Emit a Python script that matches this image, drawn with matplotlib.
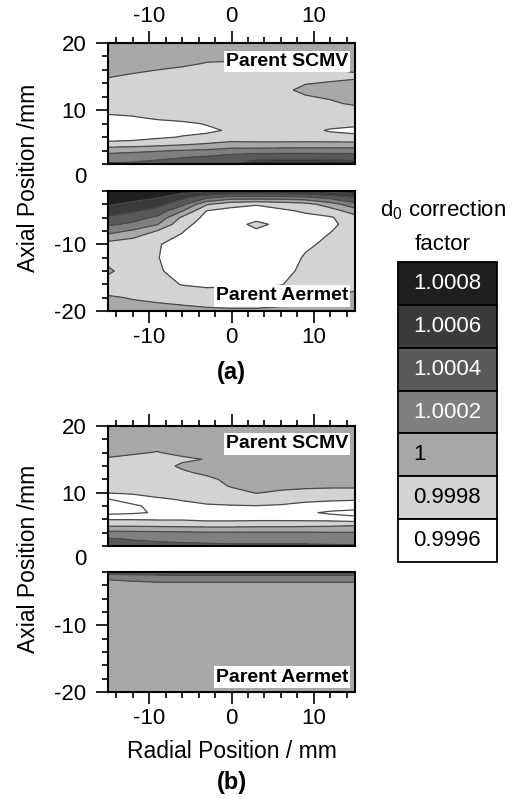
import matplotlib
matplotlib.use("Agg")
import matplotlib.pyplot as plt
import matplotlib.transforms as mtransforms
from matplotlib.patches import Rectangle
from matplotlib.ticker import MultipleLocator
import numpy as np

plt.rcParams["font.family"] = ["Liberation Sans", "DejaVu Sans"]
plt.rcParams["mathtext.default"] = "regular"
plt.rcParams["axes.unicode_minus"] = False

# measurement grid (mm)
radial = [-15, -12, -9, -6, -3, 0, 3, 6, 9, 12, 15]
axial_scmv_a = [2, 3, 4, 5, 6, 7, 8, 9, 10, 11, 13, 15, 17, 20]
axial_aermet_a = [-20, -18, -16, -14, -12, -10, -8, -7, -6, -5, -4, -3, -2]
axial_scmv_b = [2, 3, 4, 5, 6, 7, 8, 9, 10, 11, 12, 13, 14, 15, 16, 18, 20]
axial_aermet_b = [-20, -12, -6, -4, -3, -2]

# (d0 correction factor - 1) x 1e4, one list per radial position (bottom -> top)
scmv_a = [
    [3.2, 1.8, 0.4, -2.4, -4.0, -4.2, -4.0, -3.3, -2.5, -2.0, -2.0, -0.9, 0.0, 0.0],
    [3.4, 2.0, 0.6, -2.2, -3.8, -4.0, -3.8, -3.1, -2.3, -2.0, -2.0, -1.3, 0.0, 0.0],
    [3.7, 2.5, 0.8, -1.8, -3.3, -3.8, -3.6, -2.6, -2.1, -2.0, -2.0, -1.6, -0.4, 0.0],
    [4.0, 2.9, 1.1, -1.4, -2.9, -3.5, -3.3, -2.4, -2.0, -2.0, -2.0, -1.8, -0.7, 0.0],
    [4.3, 3.3, 1.3, -0.9, -2.6, -3.3, -2.9, -2.3, -2.0, -2.0, -2.0, -2.0, -1.05, 0.0],
    [4.9, 3.9, 1.8, -0.5, -2.0, -2.8, -2.5, -2.2, -2.0, -2.0, -2.0, -2.0, -1.1, 0.0],
    [6.0, 4.3, 1.9, -0.6, -2.0, -2.3, -2.3, -2.2, -2.0, -2.0, -2.0, -2.0, -1.1, 0.0],
    [6.3, 4.4, 2.0, -0.6, -2.0, -2.3, -2.3, -2.2, -2.0, -2.0, -1.6, -2.0, -0.95, 0.0],
    [6.3, 4.4, 2.0, -0.5, -2.1, -2.4, -2.3, -2.2, -2.0, -2.0, -0.4, -1.8, -0.7, 0.0],
    [6.2, 4.3, 2.0, -0.5, -2.3, -3.2, -2.3, -2.2, -2.0, -1.4, 0.0, -1.6, -0.5, 0.0],
    [6.0, 4.2, 2.0, -0.5, -2.4, -3.6, -2.5, -2.2, -2.0, -0.6, 0.2, -1.3, -0.3, 0.0],
]
aermet_a = [
    [-0.3, -0.8, -2.0, -0.6, -1.8, -1.8, 1.8, 3.3, 4.7, 6.2, 7.2, 8.0, 8.6],
    [-0.4, -1.1, -2.0, -2.2, -2.6, -2.4, 0.7, 2.6, 3.8, 5.3, 6.6, 7.6, 8.3],
    [-0.5, -1.3, -2.2, -2.8, -2.95, -2.9, -1.1, 1.1, 2.6, 4.2, 5.7, 7.1, 7.8],
    [-0.6, -1.5, -3.1, -3.6, -3.6, -3.5, -2.9, -2.4, -1.4, 1.1, 3.5, 5.6, 7.8],
    [-0.7, -1.8, -3.4, -4.0, -4.2, -4.2, -4.0, -3.8, -3.6, -3.1, -0.8, 3.3, 7.6],
    [-0.8, -1.8, -3.3, -4.1, -4.3, -4.3, -4.2, -4.0, -3.9, -3.6, -2.4, 2.0, 7.3],
    [-0.8, -1.8, -3.3, -4.1, -4.3, -4.0, -3.3, -2.4, -3.7, -3.6, -2.9, 2.0, 7.3],
    [-0.7, -1.6, -3.1, -3.8, -4.0, -4.1, -3.9, -3.6, -3.8, -3.3, -2.4, 2.0, 7.3],
    [-0.5, -1.4, -2.1, -2.4, -2.8, -3.3, -3.5, -3.5, -3.4, -2.8, -1.8, 2.4, 7.5],
    [-0.4, -0.9, -1.8, -2.2, -2.4, -2.6, -3.05, -3.3, -3.2, -2.0, 0.0, 3.6, 7.8],
    [-0.3, -0.7, -1.3, -1.9, -2.0, -2.2, -2.4, -2.4, -1.8, 0.0, 2.3, 4.8, 8.2],
]
scmv_b = [
    [4.0, 3.3, 1.6, -1.1, -3.1, -5.6, -5.8, -5.1, -2.9, -2.2, -2.0, -2.0, -1.8, -1.2, -0.5, 0.0, 0.0],
    [3.8, 2.9, 1.5, -1.1, -3.1, -5.3, -5.4, -4.0, -2.7, -2.2, -2.0, -2.0, -1.9, -1.5, -0.8, 0.0, 0.0],
    [3.6, 2.7, 1.4, -1.2, -3.2, -4.8, -4.3, -3.2, -2.5, -2.2, -2.0, -2.0, -2.0, -1.8, -1.1, 0.0, 0.0],
    [3.6, 2.4, 1.3, -1.3, -3.2, -3.8, -3.4, -2.9, -2.3, -2.1, -2.0, -1.4, -0.6, -1.4, -0.5, 0.0, 0.0],
    [3.6, 2.2, 1.2, -1.4, -3.5, -3.8, -3.2, -2.5, -2.2, -2.0, -1.6, -0.5, -0.3, -0.9, -0.2, 0.0, 0.0],
    [3.4, 2.1, 1.2, -1.4, -3.5, -3.7, -3.1, -2.3, -1.8, -0.8, -0.3, -0.1, 0.0, 0.0, 0.0, 0.0, 0.0],
    [3.4, 2.1, 1.2, -1.3, -3.4, -3.6, -3.05, -2.0, -0.9, -0.3, 0.0, 0.0, 0.0, 0.0, 0.0, 0.0, 0.0],
    [3.4, 2.1, 1.2, -1.3, -3.4, -3.7, -3.2, -2.2, -1.3, -0.5, -0.2, 0.0, 0.0, 0.0, 0.0, 0.0, 0.0],
    [3.4, 2.1, 1.2, -1.2, -3.5, -4.6, -3.4, -2.7, -1.6, -0.6, -0.2, 0.0, 0.0, 0.0, 0.0, 0.0, 0.0],
    [3.3, 2.0, 1.1, -1.1, -3.6, -5.4, -3.6, -2.8, -1.7, -0.7, -0.2, 0.0, 0.0, 0.0, 0.0, 0.0, 0.0],
    [3.2, 2.0, 1.1, -0.9, -4.0, -6.0, -3.6, -2.9, -1.7, -0.7, -0.2, 0.0, 0.0, 0.0, 0.0, 0.0, 0.0],
]
aermet_b = [
    [-0.2, -0.1, 0.0, 0.0, 1.2, 4.0],
    [-0.2, -0.1, 0.0, 0.2, 1.5, 4.0],
    [-0.2, -0.1, 0.0, 0.3, 1.8, 4.0],
    [-0.2, -0.1, 0.0, 0.3, 1.8, 4.1],
    [-0.2, -0.1, 0.0, 0.3, 1.8, 4.1],
    [-0.2, -0.1, 0.0, 0.3, 1.8, 4.1],
    [-0.2, -0.1, 0.0, 0.3, 1.8, 4.1],
    [-0.2, -0.1, 0.0, 0.3, 1.8, 4.1],
    [-0.2, -0.1, 0.0, 0.3, 1.8, 4.1],
    [-0.2, -0.1, 0.0, 0.3, 1.8, 4.1],
    [-0.2, -0.1, 0.0, 0.3, 1.8, 4.1],
]

legend_labels = ["1.0008", "1.0006", "1.0004", "1.0002", "1", "0.9998", "0.9996"]
legend_colors = ["#1f1f1f", "#3b3b3b", "#595959", "#7f7f7f", "#a8a8a8", "#d3d3d3", "#ffffff"]

# bin edges between the legend classes
line_levels = [0.9995, 0.9997, 0.9999, 1.0001, 1.0003, 1.0005, 1.0007]
fill_levels = [0.998] + line_levels + [1.002]
fill_colors = ["#ffffff"] + legend_colors[::-1]

W, H = 521, 799
fig = plt.figure(figsize=(W / 100, H / 100), dpi=100)

LEFT, RIGHT = 108, 355
TICK_MAJ, TICK_MIN, YPAD = 8.5, 4.5, 7


def px_axes(top, bottom):
    return fig.add_axes([LEFT / W, 1 - bottom / H, (RIGHT - LEFT) / W, (bottom - top) / H])


def draw_map(ax, axial, cols, upper, top_labels, label):
    z = 1 + 1e-4 * np.array(cols).T
    ax.contourf(radial, axial, z, levels=fill_levels, colors=fill_colors)
    ax.contour(radial, axial, z, levels=line_levels, colors="#4a4a4a", linewidths=0.9)
    ax.set_xlim(-15, 15)
    ax.set_ylim((2, 20) if upper else (-20, -2))
    ax.xaxis.set_major_locator(MultipleLocator(10))
    ax.xaxis.set_minor_locator(MultipleLocator(2))
    ax.yaxis.set_major_locator(MultipleLocator(10))
    ax.yaxis.set_minor_locator(MultipleLocator(2))
    ax.tick_params(which="both", direction="out", width=1.2, labelsize=16, right=False)
    ax.tick_params(which="major", length=TICK_MAJ)
    ax.tick_params(which="minor", length=TICK_MIN)
    ax.tick_params(axis="y", pad=YPAD)
    ax.tick_params(axis="x", pad=3)
    if upper:
        ax.tick_params(axis="x", which="both", top=True, bottom=False,
                       labeltop=top_labels, labelbottom=False)
    else:
        ax.tick_params(axis="x", which="both", top=False, bottom=True,
                       labeltop=False, labelbottom=True)
    for s in ax.spines.values():
        s.set_linewidth(1.5)
        s.set_zorder(5)
    ypos = 0.85 if upper else 0.125
    ax.text(0.972, ypos, label, transform=ax.transAxes, ha="right", va="center",
            fontsize=14, fontweight="bold", zorder=6,
            bbox=dict(facecolor="white", edgecolor="none", pad=1.5))


panels = [
    (43, 164, axial_scmv_a, scmv_a, True, True, "Parent SCMV"),
    (191, 311, axial_aermet_a, aermet_a, False, False, "Parent Aermet"),
    (426, 546, axial_scmv_b, scmv_b, True, False, "Parent SCMV"),
    (572, 692, axial_aermet_b, aermet_b, False, False, "Parent Aermet"),
]
axes = []
for top, bottom, axial, cols, upper, top_labels, label in panels:
    ax = px_axes(top, bottom)
    draw_map(ax, axial, cols, upper, top_labels, label)
    axes.append(ax)

# the "0" label sitting in the gap between the two halves of each panel
for ax in (axes[0], axes[2]):
    tr = mtransforms.offset_copy(ax.get_yaxis_transform(), fig=fig,
                                 x=-(TICK_MAJ + YPAD), units="points")
    ax.text(0, 0, "0", transform=tr, ha="right", va="center", fontsize=16, clip_on=False)

for yc in (177.5, 559):
    fig.text(29 / W, 1 - yc / H, "Axial Position /mm", rotation=90,
             ha="center", va="center", fontsize=16.5)

xc = (LEFT + RIGHT) / 2 / W
fig.text(xc, 1 - 752 / H, "Radial Position / mm", ha="center", va="center", fontsize=16.5)
fig.text(xc, 1 - 372 / H, "(a)", ha="center", va="center", fontsize=17, fontweight="bold")
fig.text(xc, 1 - 783 / H, "(b)", ha="center", va="center", fontsize=17, fontweight="bold")

# colour key
fig.text(443 / W, 1 - 210 / H, "d$_0$ correction", ha="center", va="center", fontsize=16)
fig.text(443 / W, 1 - 245 / H, "factor", ha="center", va="center", fontsize=16)
lax = fig.add_axes([398 / W, 1 - 562 / H, 99 / W, 300 / H])
lax.set_xlim(0, 1)
lax.set_ylim(0, len(legend_labels))
lax.axis("off")
n = len(legend_labels)
for i, (lab, col) in enumerate(zip(legend_labels, legend_colors)):
    y0 = n - 1 - i
    lax.add_patch(Rectangle((0, y0), 1, 1, facecolor=col, edgecolor="black",
                            linewidth=1.3, clip_on=False))
    lax.text(0.15, y0 + 0.5, lab, ha="left", va="center", fontsize=16,
             color="white" if i < 4 else "black")

fig.savefig("out.png", dpi=100)
